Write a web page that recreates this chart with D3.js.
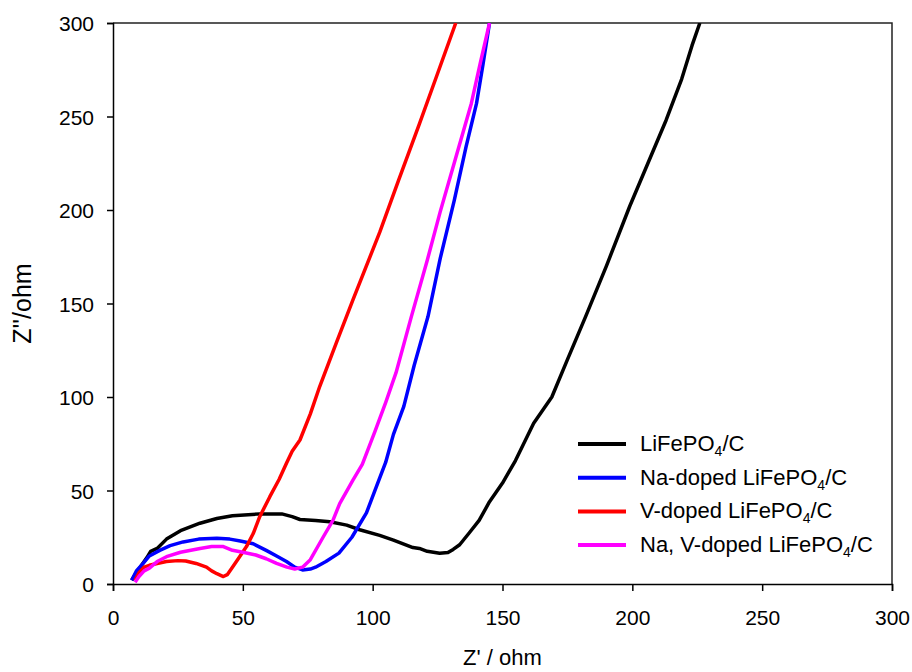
<!DOCTYPE html>
<html>
<head>
<meta charset="utf-8">
<script src="https://cdn.jsdelivr.net/npm/d3@7.9.0/dist/d3.min.js"></script>
<style>
  body { margin: 0; background: #fff; }
  svg { font-family: Arial, "Liberation Sans", sans-serif; }
</style>
</head>
<body>
<svg id="chart" width="912" height="672"></svg>
<script>
// Nyquist data: [Z', Z'']
const lfp = [[7.2,2],[9,6],[11,10],[13,14],[14.5,17.5],[17,19],[20.6,24],[26,28.5],[33.5,32.5],[40,35],
  [46,36.5],[56.5,37.5],[65,37.5],[69,36],[72,34.5],[78,34],[83.5,33.3],[90,31.5],[95,29],[102.7,26],
  [108,23.5],[115.5,19.5],[118,19],[121,17.5],[125.8,16.5],[129,16.8],[131,18.5],[133.5,21],[137,27],
  [141,34],[145,44],[150,54],[155,66],[162,86],[166,94],[169,100],[175,120],[182,143],[190,170],
  [199,202],[206,225],[213,248],[219,270],[223,288],[226,300]];

const naDoped = [[7.2,2],[9,7],[11.6,11],[14,15],[18,18],[22,20.5],[27,22.5],[33,24],[40,24.5],[45,24],
  [49,23],[54,21.5],[59,18],[63,15],[66.8,12],[70,9],[73,7.5],[76,8],[78,9],[82,12],[87,16.5],[92,25],
  [97.6,38],[101.4,52],[105,65],[108,80],[112,95],[116,117],[121.3,143],[126,174],[131.4,205],
  [136,234],[140,257],[142.5,278],[145,300]];

const vDoped = [[8.5,2],[10,6],[12,9],[14,10],[17,11],[20.6,12],[25,12.5],[28,12.3],[32,11],[36,9],
  [38,7],[40,5.5],[42.5,4],[44,5],[46,9],[48.5,14],[51.4,20],[54,27],[56.5,36],[60.4,46.7],[64,56],
  [66.8,64.6],[69,71],[72,77],[76,91],[79.6,105.6],[86,129],[92.4,152],[102.7,188],[110,216],
  [118,246],[125,273],[132,300]];

const naVDoped = [[8.5,1],[10,4],[12,7],[14,8.5],[17,12],[20.6,14.6],[26,17],[33.5,19],[38,20],
  [42.5,20],[46,18],[50,17],[55,15.5],[59,13.5],[63,11],[67,9],[70,8],[73,9],[76,13],[80.9,25],
  [84.7,34],[87.3,43],[92.4,55.6],[96,64],[101,82],[105,97],[109,113],[114.9,143],[121,173],
  [126,199],[131.8,227],[138,257],[141.5,279],[145,300]];

const seriesNames = ['LiFePO4/C', 'Na-doped LiFePO4/C', 'V-doped LiFePO4/C', 'Na, V-doped LiFePO4/C'];
const seriesData = [lfp, naDoped, vDoped, naVDoped];
const colors = ['#000000', '#0000ff', '#ff0000', '#ff00ff'];
const xTicks = [0, 50, 100, 150, 200, 250, 300];
const yTicks = [0, 50, 100, 150, 200, 250, 300];

const margin = { top: 23, right: 20, bottom: 88, left: 113 };
const width = 912 - margin.left - margin.right;
const height = 672 - margin.top - margin.bottom;

const svg = d3.select('#chart');
const g = svg.append('g').attr('transform', `translate(${margin.left},${margin.top})`);

const x = d3.scaleLinear().domain([0, 300]).range([0, width]);
const y = d3.scaleLinear().domain([0, 300]).range([height, 0]);

g.append('clipPath').attr('id', 'clip')
  .append('rect').attr('width', width).attr('height', height);

// frame (top + right)
g.append('path')
  .attr('d', `M0,0H${width}V${height}`)
  .attr('fill', 'none')
  .attr('stroke', '#222')
  .attr('stroke-width', 1.5);

const xAxis = g.append('g')
  .attr('transform', `translate(0,${height})`)
  .call(d3.axisBottom(x).tickValues(xTicks).tickSize(7).tickPadding(19));

const yAxis = g.append('g')
  .call(d3.axisLeft(y).tickValues(yTicks).tickSize(6).tickPadding(13));

[xAxis, yAxis].forEach(a => {
  a.select('.domain').attr('stroke', '#000').attr('stroke-width', 1.5);
  a.selectAll('.tick line').attr('stroke', '#000').attr('stroke-width', 1.5);
  a.selectAll('.tick text')
    .attr('fill', '#000')
    .style('font-size', '21px')
    .style('font-family', 'Arial, "Liberation Sans", sans-serif');
});
yAxis.selectAll('.tick text').attr('dy', '0.36em');

// axis titles
svg.append('text')
  .attr('x', margin.left + width / 2)
  .attr('y', 665)
  .attr('text-anchor', 'middle')
  .style('font-size', '22px')
  .text("Z' / ohm");

svg.append('text')
  .attr('transform', `translate(31,${margin.top + height / 2}) rotate(-90)`)
  .attr('text-anchor', 'middle')
  .style('font-size', '25px')
  .text("Z''/ohm");

// curves
const line = d3.line().x(d => x(d[0])).y(d => y(d[1]));

g.append('g').attr('clip-path', 'url(#clip)')
  .selectAll('path')
  .data(seriesData)
  .join('path')
  .attr('d', line)
  .attr('fill', 'none')
  .attr('stroke', (d, i) => colors[i])
  .attr('stroke-width', 3.5)
  .attr('stroke-linejoin', 'round');

// legend
const legend = svg.append('g').attr('transform', 'translate(578,444)');
const rows = legend.selectAll('g')
  .data(seriesNames)
  .join('g')
  .attr('transform', (d, i) => `translate(0,${i * 33.7})`);

rows.append('line')
  .attr('x1', 0).attr('x2', 48)
  .attr('stroke', (d, i) => colors[i])
  .attr('stroke-width', 4);

rows.append('text')
  .attr('x', 62)
  .attr('y', 7)
  .style('font-size', '22px')
  .each(function (d) {
    const t = d3.select(this);
    const parts = d.split('PO4');
    t.append('tspan').text(parts[0] + 'PO');
    t.append('tspan').attr('dy', 5).style('font-size', '14px').text('4');
    t.append('tspan').attr('dy', -5).text(parts[1]);
  });
</script>
</body>
</html>
